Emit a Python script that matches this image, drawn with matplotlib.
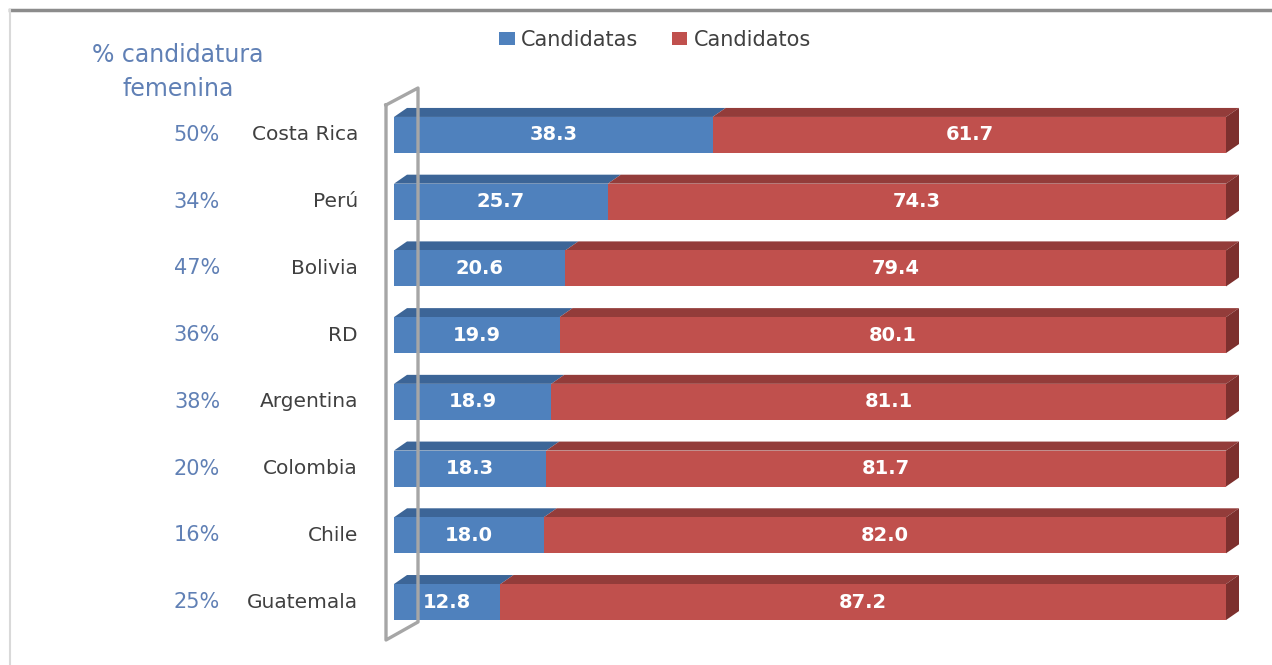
import matplotlib
matplotlib.use("Agg")
import matplotlib.pyplot as plt
from matplotlib.patches import Polygon
from matplotlib.lines import Line2D

countries = ["Costa Rica", "Perú", "Bolivia", "RD", "Argentina", "Colombia", "Chile", "Guatemala"]
pct_femenina = ["50%", "34%", "47%", "36%", "38%", "20%", "16%", "25%"]
candidatas = [38.3, 25.7, 20.6, 19.9, 18.9, 18.3, 18.0, 12.8]
candidatos = [61.7, 74.3, 79.4, 80.1, 81.1, 81.7, 82.0, 87.2]
series_names = ["Candidatas", "Candidatos"]
header = "% candidatura\nfemenina"

W, H = 1272, 665
fig = plt.figure(figsize=(W / 100, H / 100), dpi=100)
fig.patch.set_facecolor("white")

FONT = ["DejaVu Sans"]
blue, red = "#4F81BD", "#C0504D"
blue_top, red_top = "#3C6597", "#933C3A"
red_side = "#7D302E"
label_blue = "#6080B5"

# axes placement in pixels
x0_px, x1_px = 394, 1226
top_px, bot_px = 101.6, 635.4
ax = fig.add_axes([x0_px / W, 1 - bot_px / H, (x1_px - x0_px) / W, (bot_px - top_px) / H])
ax.set_xlim(0, 100)
n = len(countries)
ax.set_ylim(n - 0.5, -0.5)
ax.axis("off")

ypos = list(range(n))
bh = 0.54
ax.barh(ypos, candidatas, height=bh, color=blue, edgecolor="none", label=series_names[0], zorder=3)
ax.barh(ypos, candidatos, left=candidatas, height=bh, color=red, edgecolor="none", label=series_names[1], zorder=3)

# 3D depth offsets (pixels -> data units)
px_per_x = (x1_px - x0_px) / 100.0
px_per_y = (bot_px - top_px) / n
ddx = 13 / px_per_x
ddy = 9 / px_per_y

for i in range(n):
    yt = i - bh / 2
    yb = i + bh / 2
    a = candidatas[i]
    # top faces
    ax.add_patch(Polygon([(0, yt), (a, yt), (a + ddx, yt - ddy), (ddx, yt - ddy)],
                         closed=True, facecolor=blue_top, edgecolor="none", zorder=2))
    ax.add_patch(Polygon([(a, yt), (100, yt), (100 + ddx, yt - ddy), (a + ddx, yt - ddy)],
                         closed=True, facecolor=red_top, edgecolor="none", zorder=2))
    # right side face
    ax.add_patch(Polygon([(100, yt), (100 + ddx, yt - ddy), (100 + ddx, yb - ddy), (100, yb)],
                         closed=True, facecolor=red_side, edgecolor="none", zorder=2))
    # value labels
    ax.text(a / 2, i, f"{candidatas[i]:.1f}", ha="center", va="center", color="white",
            fontsize=14, fontweight="bold", family=FONT, zorder=5)
    ax.text(a + candidatos[i] / 2, i, f"{candidatos[i]:.1f}", ha="center", va="center", color="white",
            fontsize=14, fontweight="bold", family=FONT, zorder=5)
    # category labels
    ax.text(-36 / px_per_x, i, countries[i], ha="right", va="center", color="#404040",
            fontsize=14.5, family=FONT)
    ax.text(-174 / px_per_x, i, pct_femenina[i], ha="right", va="center", color=label_blue,
            fontsize=15, family=FONT)

for p in ax.patches:
    p.set_clip_on(False)

def fx(px):
    return px / W

def fy(py):
    return 1 - py / H

# left wall (3D)
wall_c = "#A6A6A6"
wall = [(386, 105), (418, 88), (418, 622), (386, 640)]
xs = [fx(p[0]) for p in wall] + [fx(wall[0][0])]
ys = [fy(p[1]) for p in wall] + [fy(wall[0][1])]
fig.add_artist(Line2D(xs, ys, color=wall_c, lw=2.4, transform=fig.transFigure, zorder=1))

# header text
fig.text(fx(178), fy(72), header, ha="center", va="center", color=label_blue,
         fontsize=17, family=FONT, linespacing=1.55)

# legend
handles, labels = ax.get_legend_handles_labels()
fig.legend(handles, labels, loc="center", bbox_to_anchor=(fx(655), fy(40)), ncol=2,
           frameon=False, prop={"family": FONT, "size": 15}, handlelength=0.75,
           handleheight=0.55, handletextpad=0.3, columnspacing=1.6, labelcolor="#404040")

# outer border (top and left)
fig.add_artist(Line2D([fx(10), 1], [fy(9.5), fy(9.5)], color="#8C8C8C", lw=2.5, transform=fig.transFigure))
fig.add_artist(Line2D([fx(10), fx(10)], [fy(9.5), 0], color="#D9D9D9", lw=1.5, transform=fig.transFigure))

fig.savefig("out.png", dpi=100, facecolor="white")
